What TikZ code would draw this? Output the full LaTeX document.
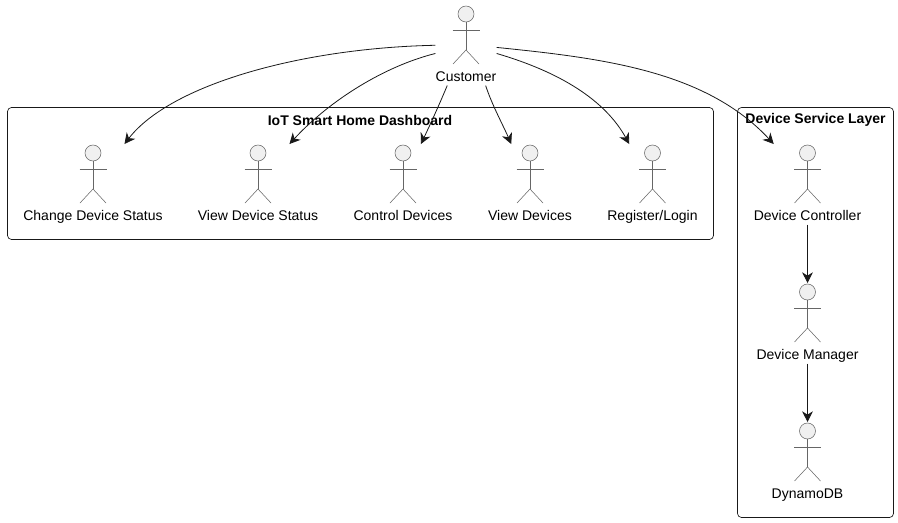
\documentclass[tikz,border=0pt]{standalone}
\usepackage{fontspec}
\setmainfont{Liberation Sans}
\usetikzlibrary{arrows.meta}
\tikzset{
	actorbox/.style={anchor=north,inner sep=0pt,text height=57pt,text depth=3pt,font=\fontsize{10.5}{12}\selectfont},
	actorline/.style={draw=black!60,line width=0.4pt},
	frame/.style={draw=black!90,line width=0.5pt,rounded corners=3pt},
	frametitle/.style={font=\fontsize{10.5}{12}\selectfont\bfseries,inner sep=0pt},
	flow/.style={draw=black!90,line width=0.6pt,-{Stealth[length=8pt,width=8pt,inset=2.5pt]}},
}
% stick figure drawn inside the top of an actor node
\newcommand{\stickman}[1]{
	\begin{scope}[shift={(#1.north)}]
		\draw[actorline,fill=black!6] (0,9) circle (6pt);
		\draw[actorline] (0,17) -- (0,45) (-13.5,25) -- (13.5,25);
		\draw[actorline] (-13,59) -- (0,45) -- (13,59);
	\end{scope}
}
\begin{document}
\begin{tikzpicture}[x=0.75pt,y=-0.75pt]
	\useasboundingbox[fill=white] (0,0) rectangle (898,522);
	
	% frames
	\node[frame,minimum width=529.5pt,minimum height=99pt,inner sep=0pt] (dash) at (360.5,173.5) {};
	\node[frame,minimum width=117pt,minimum height=307.5pt,inner sep=0pt] (layer) at (815.5,312.5) {};
	\node[frametitle] (dashtitle) at (360,120) {IoT Smart Home Dashboard};
	\node[frametitle] (layertitle) at (815.5,120) {Device Service Layer};
	
	% actors
	\node[actorbox] (cust) at (466,5) {Customer};
	\node[actorbox] (chg) at (93,144) {Change Device Status};
	\node[actorbox] (vds) at (258,144) {View Device Status};
	\node[actorbox] (ctl) at (403,144) {Control Devices};
	\node[actorbox] (vdv) at (530,144) {View Devices};
	\node[actorbox] (reg) at (652.5,144) {Register/Login};
	\node[actorbox] (dc) at (807.5,144) {Device Controller};
	\node[actorbox] (dm) at (807.5,283) {Device Manager};
	\node[actorbox] (db) at (807.5,422) {DynamoDB};
	\foreach \n in {cust,chg,vds,ctl,vdv,reg,dc,dm,db}
		\stickman{\n};
	
	% connectors
	\draw[flow] (cust.180) .. controls (300,48) and (170,85) .. (chg.52);
	\draw[flow] (cust.195) .. controls (385,66) and (330,100) .. (vds.52);
	\draw[flow] (cust.245) .. controls (440,103) and (430,125) .. (ctl.66);
	\draw[flow] (cust.296) .. controls (492,105) and (503,125) .. (vdv.115);
	\draw[flow] (cust.345) .. controls (560,72) and (605,100) .. (reg.120);
	\draw[flow] (cust.356) .. controls (600,58) and (705,70) .. (dc.130);
	\draw[flow] (dc) -- (dm);
	\draw[flow] (dm) -- (db);
	
\end{tikzpicture}
\end{document}
